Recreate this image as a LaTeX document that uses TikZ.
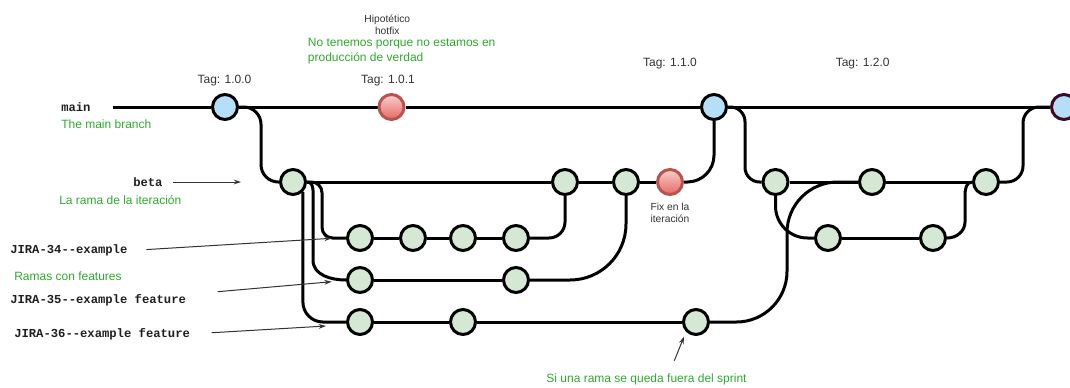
\documentclass[tikz,border=0pt]{standalone}
\usepackage{fontspec}
\setmainfont{Liberation Sans}
\setmonofont{Liberation Mono}
\usetikzlibrary{arrows.meta,calc}
\definecolor{commitgreen}{HTML}{D5E8D4}
\definecolor{tagblue}{HTML}{B5DFF7}
\definecolor{fixtop}{HTML}{F8CECC}
\definecolor{fixbottom}{HTML}{E56A66}
\definecolor{fixline}{HTML}{B85450}
\definecolor{notegreen}{HTML}{2EAA2E}
\definecolor{labelgray}{HTML}{333333}
\definecolor{headline}{HTML}{3A0A22}
\pgfdeclarelayer{edges}
\pgfsetlayers{edges,main}
\tikzset{
  commit/.style={circle, draw=black, line width=2.25pt, fill=commitgreen,
    minimum size=18.75pt, inner sep=0pt},
  tagcommit/.style={commit, fill=tagblue},
  fixcommit/.style={commit, draw=fixline, top color=fixtop, bottom color=fixbottom},
  branch/.style={line width=2.25pt, draw=black},
  pointer/.style={line width=0.75pt, draw=labelgray,
    -{Stealth[length=5.5pt,width=3.6pt]}},
  tag/.style={font=\fontsize{9}{11}\selectfont, text=labelgray, inner sep=0pt},
  note/.style={font=\fontsize{9}{11.25}\selectfont, text=notegreen, inner sep=0pt},
  smallnote/.style={font=\fontsize{7.7}{9}\selectfont, text=labelgray,
    inner sep=0pt, align=center},
  refname/.style={font=\fontsize{9.15}{11}\selectfont\ttfamily\bfseries,
    text=black!88, inner sep=0pt, anchor=west},
}
\begin{document}
\begin{tikzpicture}[x=0.75pt, y=-0.75pt]
\useasboundingbox (0,0) rectangle (1070,387);

% main branch
\coordinate (mstart) at (113,107);
\node[tagcommit] (m1) at (225,107) {};
\node[fixcommit] (hf) at (391.5,107) {};
\node[tagcommit] (b2) at (714,107) {};
\node[tagcommit, draw=headline] (b3) at (1064,107) {};

% beta branch, first iteration
\node[commit] (beta) at (293,182) {};
\node[commit] (n2) at (565,182) {};
\node[commit] (n3) at (626,182) {};
\node[fixcommit] (fix) at (670,182) {};

% feature branches
\node[commit] (n34a) at (360,238) {};
\node[commit] (n34b) at (413,238) {};
\node[commit] (n34c) at (463,238) {};
\node[commit] (n34d) at (516,238) {};
\node[commit] (n35a) at (360,280) {};
\node[commit] (n35b) at (516,280) {};
\node[commit] (n36a) at (360,322) {};
\node[commit] (n36b) at (463,322) {};
\node[commit] (n36c) at (696,322) {};

% beta branch, second iteration
\node[commit] (r1) at (775.5,182) {};
\node[commit] (r2) at (872,182) {};
\node[commit] (r3) at (986,182) {};
\node[commit] (l1) at (828,238) {};
\node[commit] (l2) at (933,238) {};

\begin{pgfonlayer}{edges}
  \draw[branch] (mstart) -- (m1) -- (hf) -- (b2) -- (b3);
  \draw[branch] (beta) -- (n2) -- (n3) -- (fix);
  \draw[branch] (n34a) -- (n34b) -- (n34c) -- (n34d);
  \draw[branch] (n35a) -- (n35b);
  \draw[branch] (n36a) -- (n36b) -- (n36c);
  \draw[branch] (r1) -- (r2) -- (r3);
  \draw[branch] (l1) -- (l2);

  % branching off and merging back
  \draw[branch, rounded corners=13pt] (m1.east) -- ++(22,0) |- (beta.west);
  \draw[branch, rounded corners=8pt] (beta.east) -| ([xshift=-18pt]n34a.west) -- (n34a.west);
  \draw[branch] (beta.east) to[out=0,in=90] (313,200) -- (313,260)
    to[out=-90,in=180] (n35a.west);
  \draw[branch, rounded corners=15pt] (beta.-45) |- (n36a.west);
  \draw[branch, rounded corners=12pt] (n34d.east) -| (n2.south);
  \draw[branch, rounded corners=42pt] (n35b.east) -| (n3.south);
  \draw[branch, rounded corners=20pt] (fix.east) -| (b2.south);
  \draw[branch, rounded corners=11pt] (b2.east) -- ++(17,0) |- (r1.west);
  \draw[branch, rounded corners=24pt] (r1.south) |- (l1.west);
  \draw[branch] (l2.east) to[out=0,in=-90] (965,222) -- (965,196)
    to[out=90,in=180] (r3.west);
  \draw[branch, rounded corners=38pt] (n36c.east) -| (787,182) -- (r2.west);
  \draw[branch, rounded corners=12pt] (r3.east) -- ++(23,0) |- (b3.west);
\end{pgfonlayer}

% branch names and notes
\node[refname] (lmain) at (61,107) {main};
\node[note, anchor=west] (nmain) at (61,124) {The main branch};
\node[refname] (lbeta) at (133,182) {beta};
\node[note, anchor=west] (nbeta) at (59,200) {La rama de la iteración};
\node[refname] (l34) at (10,250.7) {JIRA-34--example};
\node[note, anchor=west] (nfeat) at (14,276.7) {Ramas con features};
\node[refname] (l35) at (10,300) {JIRA-35--example feature};
\node[refname] (l36) at (14,334) {JIRA-36--example feature};

% tags
\node[tag] (t100) at (224.5,81) {Tag: 1.0.0};
\node[tag] (t101) at (388,81) {Tag: 1.0.1};
\node[tag] (t110) at (670,63.5) {Tag: 1.1.0};
\node[tag] (t120) at (862.7,64) {Tag: 1.2.0};

\node[smallnote] (hot) at (387.3,24.5) {Hipotético\\hotfix};
\node[note, anchor=north west, align=left] (nohot) at (307.7,38)
  {No tenemos porque no estamos en\\producción de verdad};
\node[smallnote] (fixnote) at (670,213.3) {Fix en la\\iteración};
\node[note] (nsprint) at (646.5,379.3) {Si una rama se queda fuera del sprint};

% pointers
\coordinate (pbeta) at (241,182);
\coordinate (p34) at (331.7,238.3);
\coordinate (s35) at (217.7,291.7);
\coordinate (p35) at (331.7,281.7);
\coordinate (p36) at (326,326);
\coordinate (ssprint) at (674.3,360.7);
\coordinate (psprint) at (684,336.7);
\draw[pointer, shorten <=7.5pt] (lbeta.east) -- (pbeta);
\draw[pointer, shorten <=14pt] (l34.east) -- (p34);
\draw[pointer] (s35) -- (p35);
\draw[pointer, shorten <=16pt] (l36.east) -- (p36);
\draw[pointer] (ssprint) -- (psprint);
\end{tikzpicture}
\end{document}
